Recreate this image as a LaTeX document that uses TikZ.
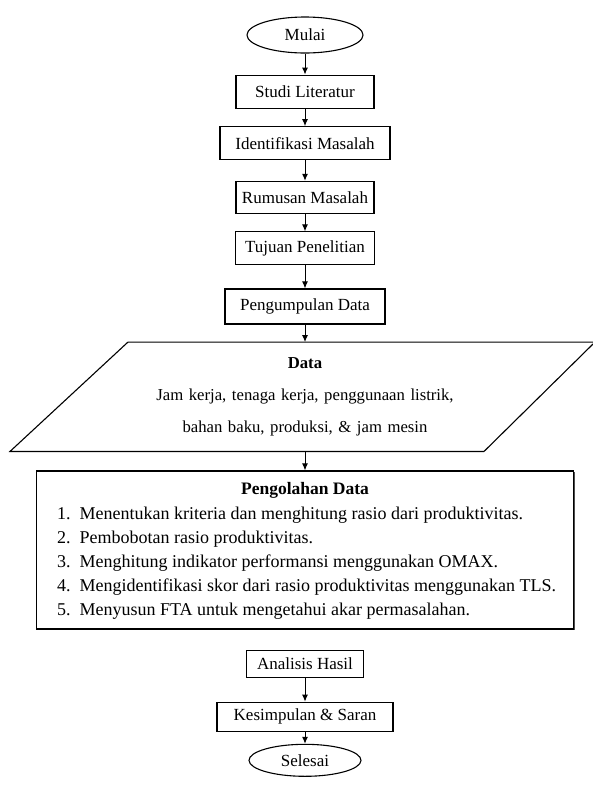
\documentclass[tikz,border=0pt]{standalone}
\usepackage{fontspec}
\setmainfont{Liberation Serif}
\usetikzlibrary{arrows.meta,positioning,calc,shapes.geometric,shadows}

\begin{document}
\begin{tikzpicture}[x=1pt, y=-1pt,
  box/.style={draw, line width=1.1pt, minimum height=33pt, inner sep=2pt, align=center, font=\fontsize{17}{20}\selectfont},
  term/.style={draw, ellipse, line width=1.1pt, minimum width=116pt, minimum height=36pt, inner sep=1pt, font=\fontsize{17}{20}\selectfont},
  arr/.style={-{Latex[length=7pt,width=6pt]}, line width=1pt}
]
  \useasboundingbox (0,0) rectangle (593,796);

  \node[term] (mulai) at (305,35) {Mulai};
  \node[box, minimum width=138pt, below=21pt of mulai] (studi) {Studi Literatur};
  \node[box, minimum width=170pt, below=17.5pt of studi] (identifikasi) {Identifikasi Masalah};
  \node[box, minimum width=138pt, minimum height=32pt, below=20.5pt of identifikasi] (rumusan) {Rumusan Masalah};
  \node[box, minimum width=139pt, below=17.5pt of rumusan] (tujuan) {Tujuan Penelitian};
  \node[box, minimum width=160pt, minimum height=35pt, below=23pt of tujuan] (pengumpulan) {Pengumpulan Data};

  % data masukan (jajar genjang)
  \node[minimum height=109pt, text width=420pt, align=center, inner sep=0pt,
        font=\fontsize{16.7}{32}\selectfont, below=17.5pt of pengumpulan] (data)
    {\textbf{Data}\\ Jam kerja, tenaga kerja, penggunaan listrik,\\ bahan baku, produksi, \& jam mesin};
  \draw[line width=1.1pt] ($(data.north)+(-177,0)$) -- ($(data.north)+(290,0)$)
    -- ($(data.south)+(179,0)$) -- ($(data.south)+(-295,0)$) -- cycle;

  % pengolahan data
  \node[draw, fill=white, line width=1.1pt, minimum width=537pt, minimum height=158pt,
        drop shadow={shadow xshift=1.2pt, shadow yshift=-1.2pt, fill=black!70, opacity=1},
        below=19pt of data] (olah) {};
  \node[font=\fontsize{17.5}{20}\selectfont\bfseries] (olahjudul) at ($(olah.north)+(0,20)$) {Pengolahan Data};
  \node[anchor=west, align=left, inner sep=0pt, font=\fontsize{18}{24}\selectfont] (olahisi) at ($(olah.west)+(21,13)$)
    {1.\ \ Menentukan kriteria dan menghitung rasio dari produktivitas.\\
     2.\ \ Pembobotan rasio produktivitas.\\
     3.\ \ Menghitung indikator performansi menggunakan OMAX.\\
     4.\ \ Mengidentifikasi skor dari rasio produktivitas menggunakan TLS.\\
     5.\ \ Menyusun FTA untuk mengetahui akar permasalahan.};

  \node[box, minimum width=117pt, minimum height=27pt, below=20pt of olah] (analisis) {Analisis Hasil};
  \node[box, minimum width=176pt, minimum height=29pt, below=24pt of analisis] (kesimpulan) {Kesimpulan \& Saran};
  \node[term, minimum width=112pt, minimum height=32pt, below=12pt of kesimpulan] (selesai) {Selesai};

  \draw[arr] (mulai) -- (studi);
  \draw[arr] (studi) -- (identifikasi);
  \draw[arr] (identifikasi) -- (rumusan);
  \draw[arr] (rumusan) -- (tujuan);
  \draw[arr] (tujuan) -- (pengumpulan);
  \draw[arr] (pengumpulan) -- (data);
  \draw[arr] (data) -- (olah);
  \draw[arr] (analisis) -- (kesimpulan);
  \draw[arr] (kesimpulan) -- (selesai);
\end{tikzpicture}
\end{document}
